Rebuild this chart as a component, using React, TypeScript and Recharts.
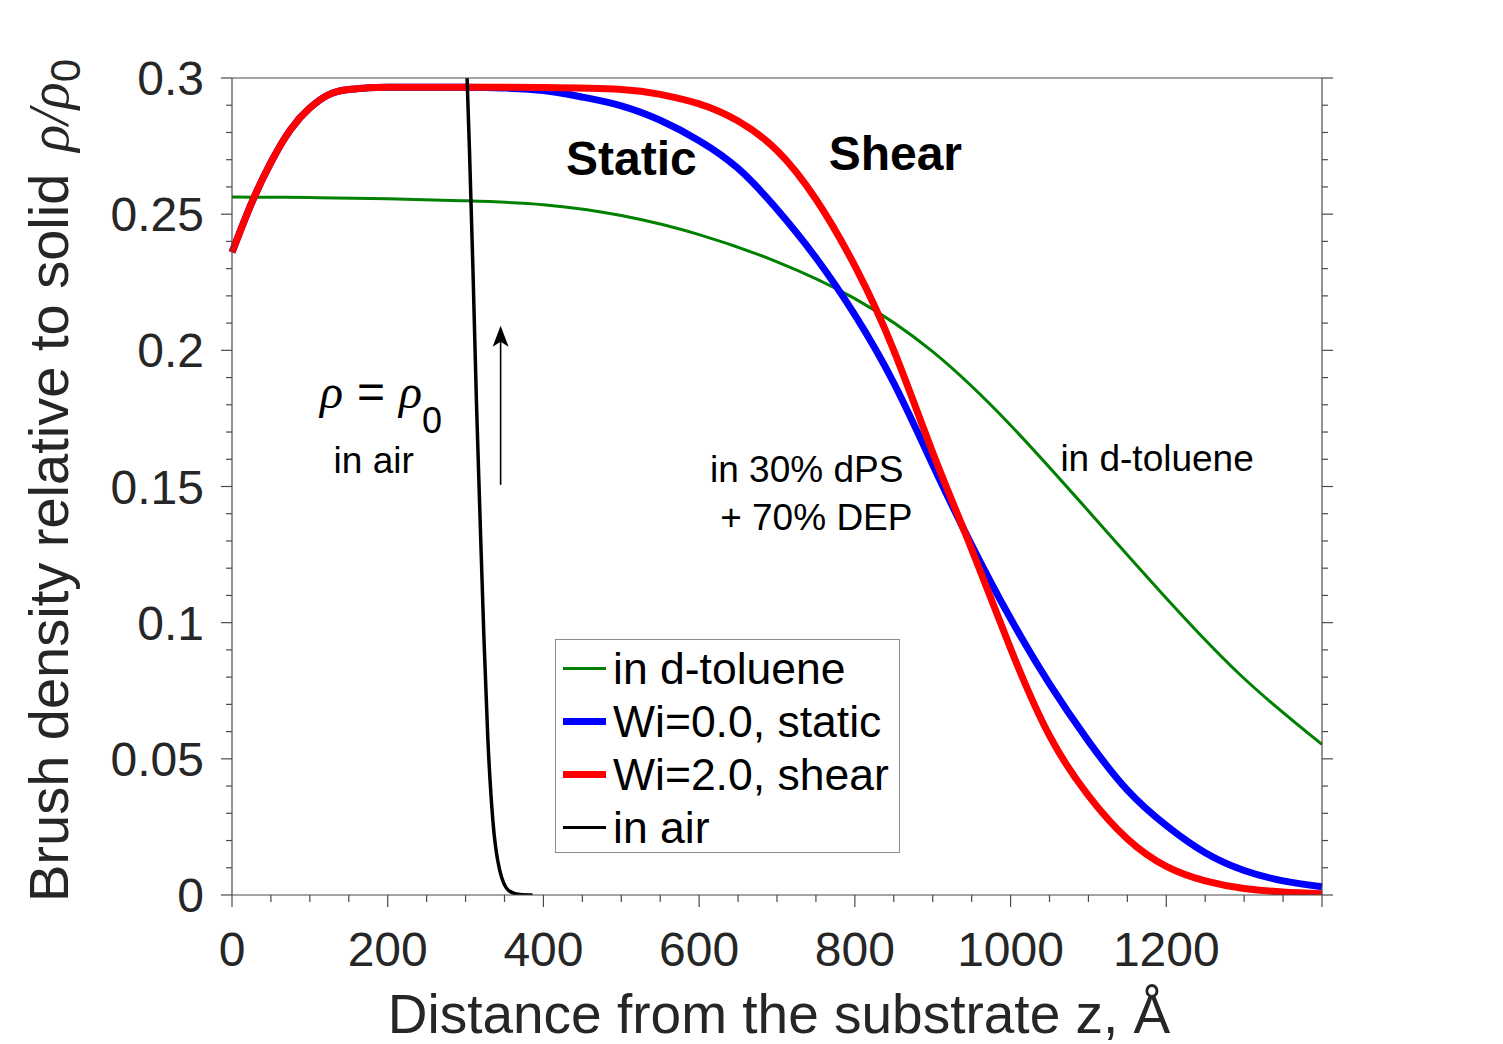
import React from "react";
import {
  LineChart,
  Line,
  XAxis,
  YAxis,
  Legend,
  ReferenceDot,
  ReferenceLine,
} from "recharts";

const SANS = '"Liberation Sans", Arial, Helvetica, sans-serif';
const SERIF = '"Liberation Serif", "Times New Roman", serif';
const INK = "#262626";
const AXIS = "#4a4a4a";

// distance from the substrate z (Å) / brush density rho/rho0
const zToluene = [0, 100, 200, 300, 400, 500, 600, 700, 800, 900, 1000, 1100, 1200, 1300, 1400];
const rhoToluene = [0.2563, 0.2561, 0.2557, 0.2549, 0.2535, 0.2495, 0.2425, 0.2325, 0.219, 0.1995, 0.1725, 0.141, 0.109, 0.0795, 0.0553];

const zStatic = [0, 25, 50, 75, 100, 125, 150, 175, 200, 300, 350, 400, 450, 500, 550, 600, 650, 700, 750, 800, 850, 900, 950, 1000, 1050, 1100, 1150, 1200, 1250, 1300, 1350, 1400];
const rhoStatic = [0.236, 0.254, 0.269, 0.281, 0.289, 0.294, 0.2958, 0.2964, 0.2966, 0.2966, 0.2963, 0.2954, 0.293, 0.2898, 0.2845, 0.277, 0.2668, 0.2518, 0.234, 0.213, 0.188, 0.158, 0.1285, 0.1015, 0.0775, 0.0565, 0.0385, 0.0255, 0.0155, 0.009, 0.0052, 0.003];

const zShear = [0, 25, 50, 75, 100, 125, 150, 175, 200, 300, 400, 500, 550, 600, 650, 700, 750, 800, 850, 900, 950, 1000, 1050, 1100, 1150, 1200, 1250, 1300, 1350, 1400];
const rhoShear = [0.236, 0.254, 0.269, 0.281, 0.289, 0.294, 0.2958, 0.2964, 0.2966, 0.2966, 0.2965, 0.2958, 0.294, 0.2905, 0.2842, 0.2734, 0.2555, 0.231, 0.2, 0.1625, 0.127, 0.0905, 0.0585, 0.0365, 0.0206, 0.0105, 0.0052, 0.0024, 0.0011, 0.0005];

const zAir = [298, 302, 305, 309.5, 314, 318, 323.5, 328.5, 335, 343.5, 356, 370, 386];
const rhoAir = [0.345, 0.2995, 0.2736, 0.2295, 0.1807, 0.144, 0.095, 0.058, 0.0275, 0.0095, 0.0015, 0.0002, 0];

const xLabelTicks = [0, 200, 400, 600, 800, 1000, 1200];
const xTickLabels = ["0", "200", "400", "600", "800", "1000", "1200"];
const yLabelTicks = [0, 0.05, 0.1, 0.15, 0.2, 0.25, 0.3];
const yTickLabels = ["0", "0.05", "0.1", "0.15", "0.2", "0.25", "0.3"];

// minor ticks every 50 Å and every 0.01
const xTicks = Array.from({ length: 29 }, (_, i) => i * 50);
const yTicks = Array.from({ length: 31 }, (_, i) => i / 100);

const toPoints = (z: number[], rho: number[]) => z.map((v, i) => ({ z: v, rho: rho[i] }));

const series = [
  { name: "in d-toluene", data: toPoints(zToluene, rhoToluene), color: "#008000", width: 3, curve: "natural" },
  { name: "Wi=0.0, static", data: toPoints(zStatic, rhoStatic), color: "#0000ff", width: 7, curve: "natural" },
  { name: "Wi=2.0, shear", data: toPoints(zShear, rhoShear), color: "#ff0000", width: 7, curve: "natural" },
  { name: "in air", data: toPoints(zAir, rhoAir), color: "#000000", width: 3.5, curve: "monotone" },
];

// text annotations placed in data coordinates (z, rho)
const notes = [
  { z: 513, rho: 0.2644, text: "Static", size: 48, bold: true, anchor: "middle" },
  { z: 852, rho: 0.2663, text: "Shear", size: 48, bold: true, anchor: "middle" },
  { z: 182, rho: 0.155, text: "in air", size: 37, bold: false, anchor: "middle" },
  { z: 614, rho: 0.1517, text: "in 30% dPS", size: 37, bold: false, anchor: "start" },
  { z: 627, rho: 0.134, text: "+ 70% DEP", size: 37, bold: false, anchor: "start" },
  { z: 1064, rho: 0.1557, text: "in d-toluene", size: 37, bold: false, anchor: "start" },
];

const isMajorX = (v: number) => v % 200 === 0;
const isMajorY = (v: number) => Math.round(v * 100) % 5 === 0;

const BottomTick = (props: any) => {
  const { x, y, payload } = props;
  const v = payload.value;
  const idx = xLabelTicks.indexOf(v);
  return (
    <g>
      <line x1={x} x2={x} y1={y} y2={y + (isMajorX(v) ? 12 : 7)} stroke={AXIS} strokeWidth={1.2} />
      {idx >= 0 && (
        <text x={x} y={y + 71} textAnchor="middle" fontSize={48} fontFamily={SANS} fill={INK}>
          {xTickLabels[idx]}
        </text>
      )}
    </g>
  );
};

const TopTick = (props: any) => {
  const { x, y, payload } = props;
  return <line x1={x} x2={x} y1={y} y2={y - (isMajorX(payload.value) ? 12 : 7)} stroke={AXIS} strokeWidth={1.2} />;
};

const LeftTick = (props: any) => {
  const { x, y, payload } = props;
  const v = payload.value;
  const idx = yLabelTicks.findIndex((t) => Math.abs(t - v) < 1e-9);
  return (
    <g>
      <line x1={x} x2={x - (isMajorY(v) ? 11 : 6)} y1={y} y2={y} stroke={AXIS} strokeWidth={1.2} />
      {idx >= 0 && (
        <text x={x - 28} y={y + 17} textAnchor="end" fontSize={48} fontFamily={SANS} fill={INK}>
          {yTickLabels[idx]}
        </text>
      )}
    </g>
  );
};

const RightTick = (props: any) => {
  const { x, y, payload } = props;
  return <line x1={x} x2={x + (isMajorY(payload.value) ? 11 : 6)} y1={y} y2={y} stroke={AXIS} strokeWidth={1.2} />;
};

const XTitle = (props: any) => {
  const vb = props.viewBox || { x: 232, y: 895, width: 1090, height: 100 };
  return (
    <text x={vb.x + vb.width / 2 + 2} y={vb.y + 138} textAnchor="middle" fontSize={55} fontFamily={SANS} fill={INK}>
      Distance from the substrate z, Å
    </text>
  );
};

const YTitle = (props: any) => {
  const vb = props.viewBox || { x: 82, y: 78, width: 150, height: 817 };
  const cx = vb.x - 14;
  const cy = vb.y + vb.height / 2 - 6;
  return (
    <text x={cx} y={cy} transform={`rotate(-90 ${cx} ${cy})`} textAnchor="middle" fontSize={56} fontFamily={SANS} fill={INK}>
      Brush density relative to solid
      <tspan dx={22} fontFamily={SERIF} fontStyle="italic">ρ/ρ</tspan>
      <tspan dy={12} fontSize={42}>0</tspan>
    </text>
  );
};

const LegendBox = () => (
  <div
    style={{
      width: 345,
      height: 214,
      boxSizing: "border-box",
      border: "1.5px solid #8c8c8c",
      background: "#fff",
      paddingTop: 2,
      fontFamily: SANS,
      fontSize: 44.5,
      color: "#000",
    }}
  >
    {series.map((s) => (
      <div key={s.name} style={{ display: "flex", alignItems: "center", height: 53, whiteSpace: "nowrap" }}>
        <div style={{ width: 43, height: s.width, background: s.color, marginLeft: 7, marginRight: 7, flex: "none" }} />
        <span style={{ lineHeight: "53px" }}>{s.name}</span>
      </div>
    ))}
  </div>
);

export default function App() {
  return (
    <div style={{ position: "absolute", left: 0, top: 0, background: "#fff" }}>
      <LineChart width={1503} height={1044} margin={{ top: 58, right: 161, bottom: 49, left: 82 }}>
        <XAxis
          dataKey="z"
          type="number"
          domain={[0, 1400]}
          ticks={xTicks}
          interval={0}
          tickSize={0}
          tickMargin={0}
          tickLine={false}
          tick={<BottomTick />}
          axisLine={{ stroke: AXIS, strokeWidth: 1.2 }}
          height={100}
          label={(p: any) => <XTitle {...p} />}
        />
        <XAxis
          xAxisId="top"
          orientation="top"
          type="number"
          domain={[0, 1400]}
          allowDataOverflow
          ticks={xTicks}
          interval={0}
          tickSize={0}
          tickMargin={0}
          tickLine={false}
          tick={<TopTick />}
          axisLine={{ stroke: AXIS, strokeWidth: 1.2 }}
          height={20}
        />
        <YAxis
          type="number"
          domain={[0, 0.3]}
          allowDataOverflow
          ticks={yTicks}
          interval={0}
          tickSize={0}
          tickMargin={0}
          tickLine={false}
          tick={<LeftTick />}
          axisLine={{ stroke: AXIS, strokeWidth: 1.2 }}
          width={150}
          label={(p: any) => <YTitle {...p} />}
        />
        <YAxis
          yAxisId="right"
          orientation="right"
          type="number"
          domain={[0, 0.3]}
          allowDataOverflow
          ticks={yTicks}
          interval={0}
          tickSize={0}
          tickMargin={0}
          tickLine={false}
          tick={<RightTick />}
          axisLine={{ stroke: AXIS, strokeWidth: 1.2 }}
          width={20}
        />
        {series.map((s) => (
          <Line
            key={s.name}
            data={s.data}
            dataKey="rho"
            name={s.name}
            type={s.curve as any}
            stroke={s.color}
            strokeWidth={s.width}
            dot={false}
            activeDot={false}
            isAnimationActive={false}
          />
        ))}
        <ReferenceLine
          segment={[
            { x: 345, y: 0.1506 },
            { x: 345, y: 0.204 },
          ]}
          stroke="#000"
          strokeWidth={1.6}
        />
        <ReferenceDot
          x={345}
          y={0.209}
          r={1}
          shape={(p: any) => (
            <path
              d={`M${p.cx},${p.cy} L${p.cx - 8},${p.cy + 21} L${p.cx},${p.cy + 16} L${p.cx + 8},${p.cy + 21} Z`}
              fill="#000"
            />
          )}
        />
        <ReferenceDot
          x={113}
          y={0.1788}
          r={1}
          shape={(p: any) => (
            <text x={p.cx} y={p.cy} fontSize={48} fontFamily={SANS} fill="#000">
              <tspan fontFamily={SERIF} fontStyle="italic">ρ</tspan>
              <tspan dx={14}>=</tspan>
              <tspan dx={14} fontFamily={SERIF} fontStyle="italic">ρ</tspan>
              <tspan dy={25} fontSize={36}>0</tspan>
            </text>
          )}
        />
        {notes.map((n) => (
          <ReferenceDot
            key={n.text}
            x={n.z}
            y={n.rho}
            r={1}
            shape={(p: any) => (
              <text
                x={p.cx}
                y={p.cy}
                textAnchor={n.anchor}
                fontSize={n.size}
                fontWeight={n.bold ? "bold" : "normal"}
                fontFamily={SANS}
                fill="#000"
              >
                {n.text}
              </text>
            )}
          />
        ))}
        <Legend
          layout="vertical"
          align="center"
          verticalAlign="middle"
          wrapperStyle={{ left: 555, top: 639, width: 345 }}
          content={() => <LegendBox />}
        />
      </LineChart>
    </div>
  );
}
